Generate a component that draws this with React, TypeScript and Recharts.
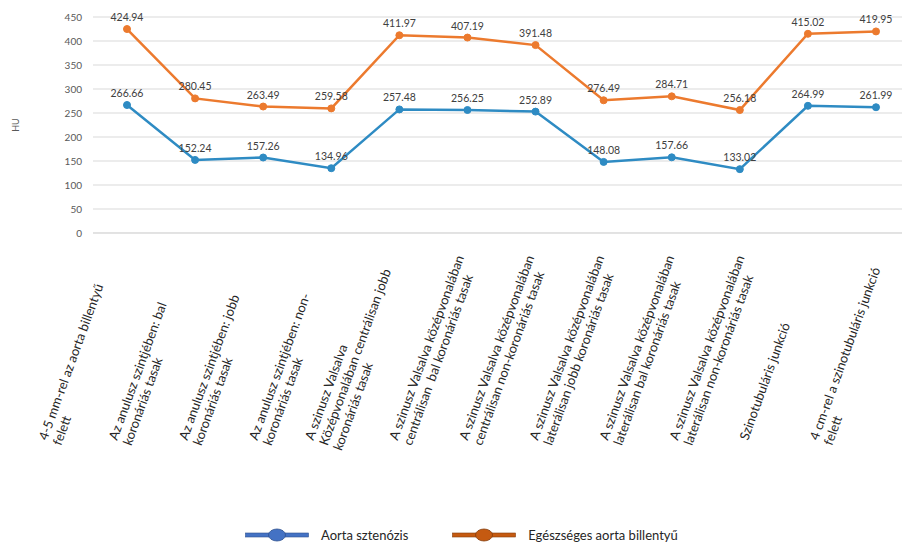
import React from 'react';
import { LineChart, Line, XAxis, YAxis, CartesianGrid, Legend, LabelList } from 'recharts';

const categories = [
  '4-5 mm-rel az aorta billentyű\nfelett',
  'Az anulusz szintjében: bal\nkoronáriás tasak',
  'Az anulusz szintjében: jobb\nkoronáriás tasak',
  'Az anulusz szintjében: non-\nkoronáriás tasak',
  'A szinusz Valsalva\nKözépvonalában centrálisan jobb\nkoronáriás tasak',
  'A szinusz Valsalva középvonalában\ncentrálisan  bal koronáriás tasak',
  'A szinusz Valsalva középvonalában\ncentrálisan non-koronáriás tasak',
  'A szinusz Valsalva középvonalában\nlaterálisan jobb koronáriás tasak',
  'A szinusz Valsalva középvonalában\nlaterálisan bal koronáriás tasak',
  'A szinusz Valsalva középvonalában\nlaterálisan non-koronáriás tasak',
  'Szinotubuláris junkció',
  '4 cm-rel a szinotubuláris junkció\nfelett',
];

const aortaSztenozis = [266.66, 152.24, 157.26, 134.96, 257.48, 256.25, 252.89, 148.08, 157.66, 133.02, 264.99, 261.99];
const egeszsegesBillentyu = [424.94, 280.45, 263.49, 259.58, 411.97, 407.19, 391.48, 276.49, 284.71, 256.18, 415.02, 419.95];

const yTicks = [0, 50, 100, 150, 200, 250, 300, 350, 400, 450];

const seriesNames = { aorta: 'Aorta sztenózis', healthy: 'Egészséges aorta billentyű' };

const data = categories.map((c, i) => ({
  cat: c,
  aorta: aortaSztenozis[i],
  healthy: egeszsegesBillentyu[i],
}));

const LINE_BLUE = '#2E8BC3';
const LINE_ORANGE = '#EC7A2E';
const legendStyles: Record<string, { fill: string; stroke: string }> = {
  aorta: { fill: '#4472C4', stroke: '#2F528F' },
  healthy: { fill: '#C55A11', stroke: '#843C0C' },
};

const XTick = (props: any) => {
  const { x, y, payload, index } = props;
  const lines: string[] = String(payload.value).split('\n');
  const sx = x - 80 + index * 2 - (lines.length === 3 ? 14 : 0);
  const sy = y + 200;
  return (
    <g transform={`translate(${sx},${sy})`}>
      <text transform="rotate(-70)" fontFamily="Lato" fontSize={13} fill="#262626" textAnchor="start" style={{ whiteSpace: 'pre' }}>
        {lines.map((l, i) => (
          <tspan key={i} x={0} dy={i === 0 ? 0 : 15}>{l}</tspan>
        ))}
      </text>
    </g>
  );
};

const LegendContent = (props: any) => {
  const { payload } = props;
  return (
    <div style={{ height: 30, display: 'flex', alignItems: 'center', paddingLeft: 245, fontFamily: 'Lato', fontSize: 13, color: '#262626' }}>
      {payload.map((p: any, i: number) => {
        const st = legendStyles[p.dataKey] || { fill: p.color, stroke: p.color };
        return (
          <div key={i} style={{ display: 'flex', alignItems: 'center', marginRight: 44 }}>
            <svg width={64} height={14} style={{ marginRight: 12 }}>
              <rect x={0.5} y={5} width={63} height={4} fill={st.fill} stroke={st.stroke} strokeWidth={0.6} />
              <ellipse cx={32} cy={7} rx={8.5} ry={6} fill={st.fill} stroke={st.stroke} strokeWidth={0.8} />
            </svg>
            <span>{p.value}</span>
          </div>
        );
      })}
    </div>
  );
};

const HULabel = (props: any) => {
  const { viewBox } = props;
  const cy = viewBox.y + viewBox.height / 2;
  return (
    <text x={15} y={cy} transform={`rotate(-90, 15, ${cy})`} textAnchor="middle" dominantBaseline="central" fontFamily="Lato" fontSize={9} fill="#595959">
      HU
    </text>
  );
};

const fmt = (v: any) => Number(v).toFixed(2);

export default function App() {
  return (
    <div style={{ position: 'absolute', left: 0, top: 0, width: 902, height: 550, overflow: 'hidden', background: '#fff' }}>
      <LineChart width={912} height={550} data={data} margin={{ top: 17, right: 2, left: 0, bottom: 0 }}>
        <CartesianGrid vertical={false} stroke="#d9d9d9" />
        <XAxis dataKey="cat" interval={0} tickLine={false} axisLine={{ stroke: '#d9d9d9' }} height={287} padding={{ left: 34, right: 34 }} tick={<XTick />} />
        <YAxis
          domain={[0, 450]}
          ticks={yTicks}
          width={93}
          axisLine={false}
          tickLine={false}
          tickMargin={5}
          tick={{ fontFamily: 'Lato', fontSize: 10, fill: '#595959' }}
          label={<HULabel />}
        />
        <Legend verticalAlign="bottom" content={<LegendContent />} wrapperStyle={{ left: 0, width: 902 }} />
        <Line name={seriesNames.aorta} dataKey="aorta" stroke={LINE_BLUE} strokeWidth={2.5} dot={{ r: 3.5, fill: LINE_BLUE, stroke: LINE_BLUE, strokeWidth: 1 }} isAnimationActive={false}>
          <LabelList dataKey="aorta" position="top" offset={8} formatter={fmt} style={{ fontFamily: 'Lato', fontSize: 10.5, fill: '#404040' }} />
        </Line>
        <Line name={seriesNames.healthy} dataKey="healthy" stroke={LINE_ORANGE} strokeWidth={2.5} dot={{ r: 3.5, fill: LINE_ORANGE, stroke: LINE_ORANGE, strokeWidth: 1 }} isAnimationActive={false}>
          <LabelList dataKey="healthy" position="top" offset={8} formatter={fmt} style={{ fontFamily: 'Lato', fontSize: 10.5, fill: '#404040' }} />
        </Line>
      </LineChart>
    </div>
  );
}
